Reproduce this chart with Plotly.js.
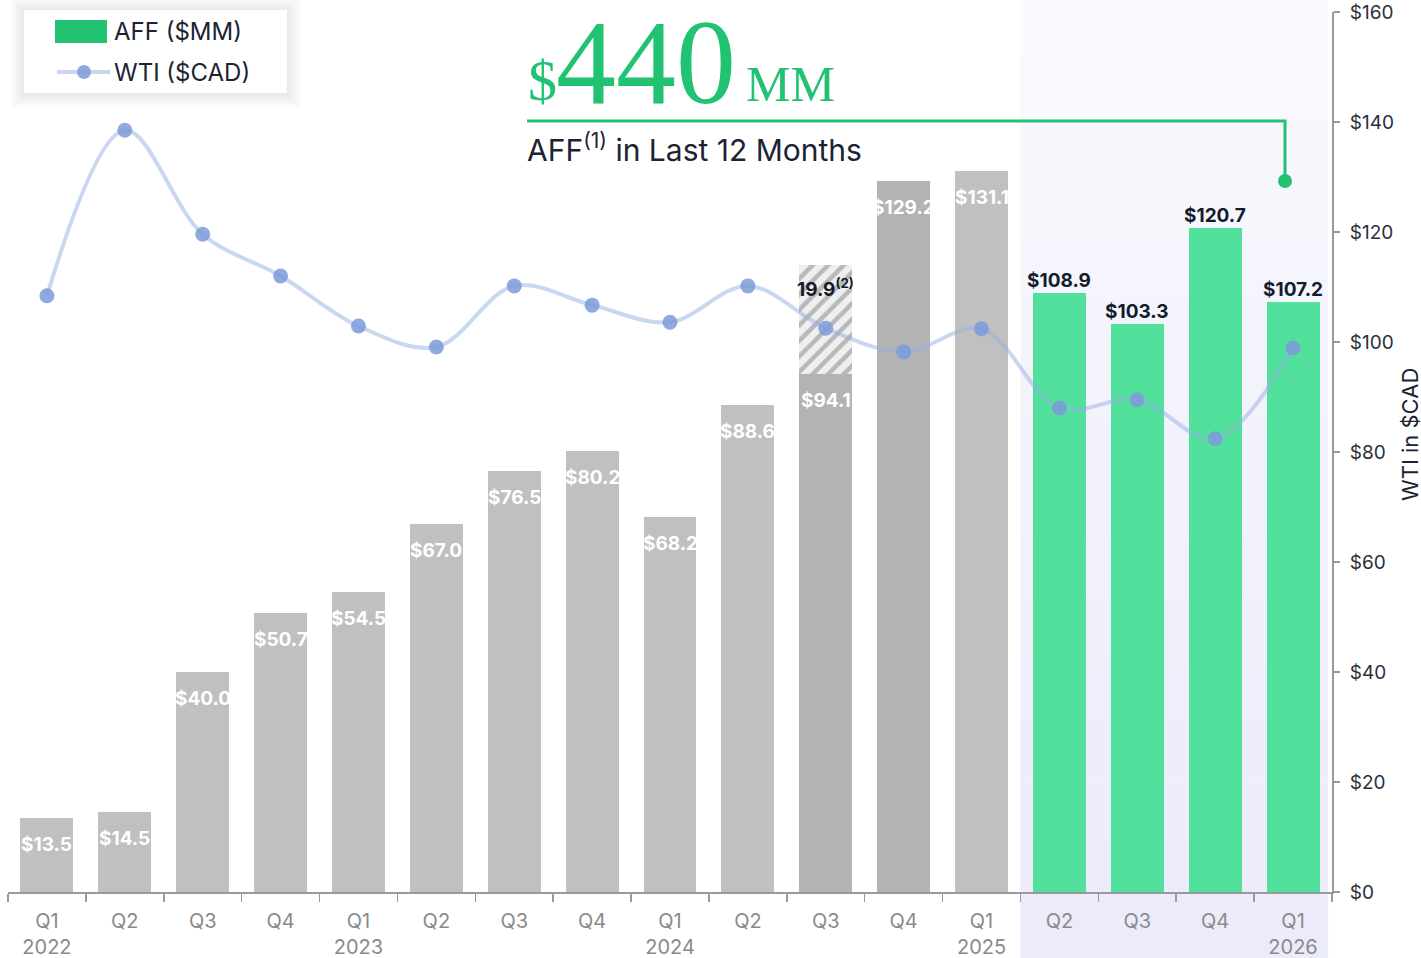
<!DOCTYPE html>
<html><head><meta charset="utf-8">
<script src="https://cdn.plot.ly/plotly-3.0.1.min.js"></script>
<style>html,body{margin:0;padding:0;background:#fff}#chart{width:1421px;height:958px}</style>
</head><body><div id="chart"></div>
<script>
// ---- data ----
const categories = ["Q1 2022","Q2 2022","Q3 2022","Q4 2022","Q1 2023","Q2 2023","Q3 2023","Q4 2023","Q1 2024","Q2 2024","Q3 2024","Q4 2024","Q1 2025","Q2 2025","Q3 2025","Q4 2025","Q1 2026"];
const tickLabels = ["Q1<br>2022","Q2","Q3","Q4","Q1<br>2023","Q2","Q3","Q4","Q1<br>2024","Q2","Q3","Q4","Q1<br>2025","Q2","Q3","Q4","Q1<br>2026"];
const affValues = [13.5,14.5,40.0,50.7,54.5,67.0,76.5,80.2,68.2,88.6,94.1,129.2,131.1,108.9,103.3,120.7,107.2];
const affAdjustment = [null,null,null,null,null,null,null,null,null,null,19.9,null,null,null,null,null,null];
const wtiValues = [108.4,138.5,119.6,112.0,102.9,99.1,110.2,106.7,103.6,110.2,102.5,98.2,102.4,88.0,89.5,82.4,98.9];
const barGroup = ["past","past","past","past","past","past","past","past","past","past","dark","dark","past","ltm","ltm","ltm","ltm"];
const ltmTotal = "440";

// ---- styles ----
const groupColor = {past:"#c0c0c0", dark:"#b3b3b3", ltm:"#52e09d"};
const W = 1421, H = 958, ML = 8, MR = 89, MT = 12, MB = 66;
const px = x => (x - ML) / (W - ML - MR);
const py = y => (H - MB - y) / (H - MT - MB);
const SANS = "Inter, 'Noto Sans', sans-serif";
const SERIF = "'Liberation Serif', serif";

const traces = [
  {type:"bar", x:categories, y:affValues, width:0.68,
   marker:{color:barGroup.map(g=>groupColor[g])}, hoverinfo:"skip", showlegend:false},
  {type:"bar", x:categories, y:affAdjustment, width:0.68,
   marker:{color:"#efefef", pattern:{shape:"/", bgcolor:"#efefef", fgcolor:"#b8b8b8", size:11, solidity:0.4}},
   hoverinfo:"skip", showlegend:false},
  {type:"scatter", mode:"lines+markers", x:categories, y:wtiValues,
   line:{shape:"spline", smoothing:1, color:"rgba(150,175,225,0.5)", width:4},
   marker:{size:15, color:"rgba(125,155,217,0.85)"}, hoverinfo:"skip", showlegend:false}
];

const annotations = [];
affValues.forEach((v,i)=>{
  if (barGroup[i] === "ltm") {
    annotations.push({x:categories[i], y:v, xref:"x", yref:"y", text:"<b>$"+v.toFixed(1)+"</b>",
      showarrow:false, yanchor:"bottom", yshift:-1, font:{family:SANS, size:19, color:"#141c2b"}});
  } else {
    annotations.push({x:categories[i], y:v, xref:"x", yref:"y", text:"<b>$"+v.toFixed(1)+"</b>",
      showarrow:false, yanchor:"top", yshift:-13, font:{family:SANS, size:19, color:"#ffffff"}});
  }
});
affAdjustment.forEach((v,i)=>{
  if (v == null) return;
  annotations.push({x:categories[i], y:affValues[i]+v, xref:"x", yref:"y",
    text:"<b>"+v.toFixed(1)+"<sup>(2)</sup></b>", showarrow:false, yanchor:"top", yshift:-8,
    font:{family:SANS, size:19, color:"#141c2b"}});
});
// big callout
annotations.push({xref:"paper", yref:"paper", x:px(526), y:py(81), xanchor:"left", yanchor:"middle",
  text:"$", showarrow:false, font:{family:SERIF, size:58, color:"#22c273"}});
annotations.push({xref:"paper", yref:"paper", x:px(554), y:py(62), xanchor:"left", yanchor:"middle",
  text:ltmTotal, showarrow:false, height:100, valign:"middle", font:{family:SERIF, size:120, color:"#22c273"}});
annotations.push({xref:"paper", yref:"paper", x:px(744), y:py(84), xanchor:"left", yanchor:"middle",
  text:"MM", showarrow:false, font:{family:SERIF, size:50, color:"#22c273"}});
annotations.push({xref:"paper", yref:"paper", x:px(525), y:py(148), xanchor:"left", yanchor:"middle",
  text:"AFF<sup>(1)</sup> in Last 12 Months", showarrow:false, font:{family:SANS, size:30, color:"#1c2333"}});
// legend text
annotations.push({xref:"paper", yref:"paper", x:px(112), y:py(31), xanchor:"left", yanchor:"middle",
  text:"AFF ($MM)", showarrow:false, font:{family:SANS, size:24, color:"#1c2333"}});
annotations.push({xref:"paper", yref:"paper", x:px(112), y:py(72), xanchor:"left", yanchor:"middle",
  text:"WTI ($CAD)", showarrow:false, font:{family:SANS, size:24, color:"#1c2333"}});
// right axis title
annotations.push({xref:"paper", yref:"paper", x:px(1410), y:py(434), xanchor:"center", yanchor:"middle",
  text:"WTI in $CAD", textangle:-90, showarrow:false, font:{family:SANS, size:22, color:"#1c2333"}});

const shapes = [];
// shaded LTM region (vertical gradient bands)
const bandCount = 16, bandTop = 0, bandBot = 958;
for (let k=0;k<bandCount;k++){
  const t = k/(bandCount-1);
  const r = Math.round(249 - t*14), g = Math.round(249 - t*14), b = Math.round(254 - t*4);
  shapes.push({type:"rect", layer:"below", xref:"x", yref:"paper", x0:12.5, x1:16.45,
    y0:py(bandTop + (k+1)*(bandBot-bandTop)/bandCount), y1:py(bandTop + k*(bandBot-bandTop)/bandCount),
    fillcolor:`rgb(${r},${g},${b})`, line:{width:0}});
}
// legend soft shadow + box
[14,12,10,8,6,4,2].forEach(d=>{
  shapes.push({type:"rect", xref:"paper", yref:"paper", x0:px(24-d), x1:px(287+d), y0:py(93+d+1), y1:py(10-d+1),
    fillcolor:"rgba(0,0,0,0.012)", line:{width:0}});
});
shapes.push({type:"rect", xref:"paper", yref:"paper", x0:px(24), x1:px(287), y0:py(93), y1:py(10),
  fillcolor:"#ffffff", line:{width:0}});
shapes.push({type:"rect", xref:"paper", yref:"paper", x0:px(55), x1:px(107), y0:py(43), y1:py(20),
  fillcolor:"#22c273", line:{width:0}});
shapes.push({type:"line", xref:"paper", yref:"paper", x0:px(57), x1:px(110), y0:py(72), y1:py(72),
  line:{color:"rgba(150,175,225,0.5)", width:4}});
shapes.push({type:"circle", xref:"paper", yref:"paper", x0:px(77), x1:px(91), y0:py(79), y1:py(65),
  fillcolor:"rgba(125,155,217,0.85)", line:{width:0}});
// callout line and dot
shapes.push({type:"path", xref:"paper", yref:"paper",
  path:`M ${px(527)} ${py(121)} L ${px(1285)} ${py(121)} L ${px(1285)} ${py(181)}`,
  line:{color:"#22c273", width:3}});
shapes.push({type:"circle", xref:"paper", yref:"paper", x0:px(1278), x1:px(1292), y0:py(188), y1:py(174),
  fillcolor:"#22c273", line:{width:0}});

const layout = {
  width:W, height:H, margin:{l:ML, r:MR, t:MT, b:MB, pad:0},
  paper_bgcolor:"#ffffff", plot_bgcolor:"rgba(0,0,0,0)",
  barmode:"stack", showlegend:false, bargap:0.32,
  font:{family:SANS, color:"#1c2333"},
  xaxis:{type:"category", tickmode:"array", tickvals:categories, ticktext:tickLabels,
    tickson:"boundaries", ticks:"outside", ticklen:8, tickcolor:"#9a9a9a", tickwidth:1.5,
    showline:true, linecolor:"#9a9a9a", linewidth:2, showgrid:false, zeroline:false,
    ticklabelstandoff:10,
    range:[-0.5,16.5], tickfont:{family:SANS, size:20, color:"#8a8a8a"}},
  yaxis:{side:"right", range:[0,160], dtick:20, tickprefix:"$", ticks:"outside", ticklen:6,
    tickcolor:"#9a9a9a", tickwidth:1.5, showline:true, linecolor:"#9a9a9a", linewidth:2,
    ticklabelstandoff:6,
    showgrid:false, zeroline:false, tickfont:{family:SANS, size:19, color:"#2a2f3a"}},
  annotations, shapes
};
Plotly.newPlot("chart", traces, layout, {displayModeBar:false, staticPlot:true});
</script></body></html>
